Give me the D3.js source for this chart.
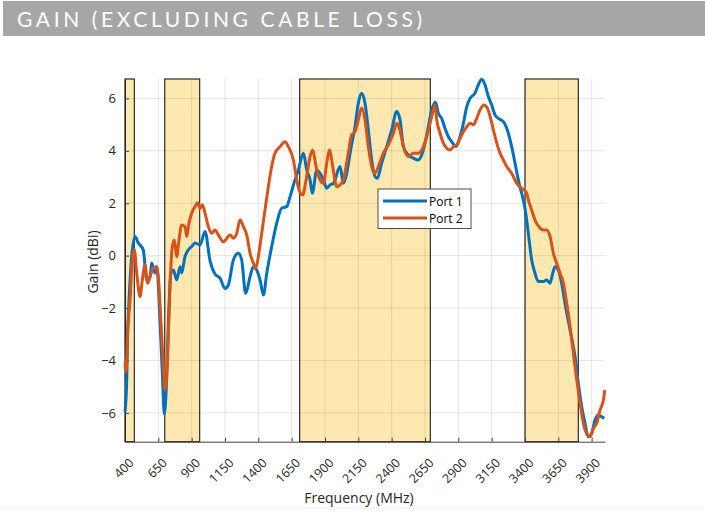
<!DOCTYPE html>
<html>
<head>
<meta charset="utf-8">
<script src="https://cdn.jsdelivr.net/npm/d3@7"></script>
<style>
  body { margin: 0; background: #fff; }
  text { font-family: "Open Sans", "Noto Sans", sans-serif; }
</style>
</head>
<body>
<div id="chart"></div>
<script>
var svgWidth = 705;
var svgHeight = 517;

// operating bands (MHz)
var bands = [[400, 470], [698, 960], [1710, 2690], [3400, 3800]];

var xTicks = [400, 650, 900, 1150, 1400, 1650, 1900, 2150, 2400, 2650, 2900, 3150, 3400, 3650, 3900];
var yTicks = [-6, -4, -2, 0, 2, 4, 6];

// Port 1
var freq1 = [400, 413, 420, 475, 500, 537, 563, 588, 600, 625, 638, 663, 680, 695, 713, 725, 745, 763, 788, 813,
  825, 850, 875, 900, 925, 963, 1000, 1038, 1075, 1113, 1150, 1175, 1213, 1250, 1275, 1305, 1338, 1363, 1388, 1413,
  1438, 1463, 1500, 1538, 1575, 1613, 1638, 1675, 1700, 1738, 1763, 1788, 1805, 1838, 1863, 1888, 1913, 1938, 1963, 2013,
  2038, 2063, 2088, 2125, 2150, 2175, 2200, 2225, 2250, 2275, 2293, 2325, 2363, 2400, 2438, 2463, 2488, 2525, 2563, 2600,
  2625, 2650, 2675, 2700, 2729, 2750, 2775, 2800, 2825, 2850, 2883, 2913, 2938, 2963, 2988, 3025, 3050, 3075, 3100, 3125,
  3150, 3175, 3200, 3238, 3275, 3300, 3325, 3350, 3363, 3375, 3400, 3425, 3450, 3475, 3500, 3538, 3563, 3588, 3608, 3625,
  3650, 3675, 3700, 3738, 3775, 3800, 3825, 3850, 3875, 3900, 3925, 3950, 3975, 3995];
var gain1 = [-5.95, -4.74, -2.95, 0.73, 0.48, 0.22, -0.93, -0.8, -0.28, -0.66, -0.42, -2.57, -4.48, -6.05, -4.6, -2.6, -0.66, -0.55, -0.93, -0.42,
  -0.66, -0.04, 0.22, 0.35, 0.48, 0.41, 0.92, -0.2, -0.7, -0.86, -1.25, -1.12, -0.16, 0.09, -0.16, -1.44, -0.8, -0.42, -0.55, -0.93,
  -1.5, -0.67, 0.34, 1.24, 1.81, 1.87, 2.25, 2.89, 3.27, 3.91, 3.27, 2.89, 2.38, 3.27, 3.14, 2.89, 2.57, 2.7, 2.76, 3.4,
  2.76, 3.14, 3.91, 4.92, 5.82, 6.2, 5.82, 4.8, 3.65, 3.02, 2.95, 3.53, 4.16, 4.8, 5.5, 5.18, 4.16, 3.84, 3.72, 3.65,
  3.84, 4.29, 4.92, 5.56, 5.85, 5.43, 5.24, 4.86, 4.54, 4.35, 4.16, 4.54, 5.05, 5.69, 6.0, 6.2, 6.52, 6.73, 6.52, 6.07,
  5.75, 5.37, 5.24, 5.11, 4.67, 4.16, 3.53, 2.89, 2.6, 2.38, 1.8, 0.85, -0.16, -0.67, -0.99, -0.99, -0.93, -1.05, -0.67, -0.42,
  -0.55, -1.05, -1.82, -2.84, -3.85, -4.87, -5.76, -6.4, -6.91, -6.78, -6.27, -6.08, -6.15, -6.2];

// Port 2
var freq2 = [400, 408, 420, 438, 450, 470, 488, 513, 530, 550, 570, 588, 613, 638, 650, 670, 688, 700, 720, 738,
  755, 770, 788, 805, 825, 850, 863, 880, 900, 925, 945, 963, 980, 1000, 1025, 1050, 1075, 1100, 1138, 1188,
  1213, 1238, 1263, 1288, 1313, 1338, 1363, 1380, 1400, 1425, 1450, 1475, 1500, 1525, 1563, 1600, 1625, 1663, 1688, 1713,
  1733, 1758, 1788, 1808, 1833, 1863, 1888, 1913, 1933, 1958, 1988, 2013, 2038, 2075, 2100, 2125, 2150, 2175, 2200, 2225,
  2250, 2275, 2300, 2338, 2375, 2413, 2438, 2458, 2488, 2525, 2563, 2600, 2638, 2663, 2688, 2713, 2725, 2738, 2763, 2788,
  2813, 2838, 2863, 2888, 2913, 2938, 2963, 2988, 3013, 3038, 3063, 3093, 3118, 3138, 3163, 3188, 3213, 3238, 3263, 3300,
  3338, 3375, 3413, 3425, 3450, 3475, 3513, 3538, 3563, 3588, 3613, 3638, 3663, 3688, 3713, 3738, 3763, 3788, 3813, 3838,
  3868, 3888, 3913, 3938, 3963, 3988, 3998];
var gain2 = [-4.1, -4.43, -2.84, -1.69, -0.55, 0.22, -0.67, -1.56, -0.93, -0.35, -1.05, -0.8, -0.48, -0.42, -0.8, -2.58, -4.24, -5.13, -3.85, -1.05,
  0.34, 0.6, -0.04, 0.6, 1.17, 1.11, 0.73, 1.24, 1.62, 1.87, 2.02, 1.8, 1.94, 1.62, 1.11, 0.85, 0.98, 0.79, 0.53, 0.79,
  0.66, 0.85, 1.36, 1.11, 0.79, 0.09, -0.29, -0.48, -0.04, 0.85, 1.74, 2.63, 3.4, 3.91, 4.16, 4.35, 4.16, 3.65, 2.89, 2.4,
  2.32, 2.89, 3.78, 4.03, 3.4, 2.89, 2.76, 3.53, 4.03, 3.4, 2.63, 2.7, 2.89, 3.91, 4.61, 4.73, 5.18, 5.63, 5.18, 4.16,
  3.4, 3.14, 3.4, 3.91, 4.23, 4.67, 5.05, 4.86, 4.16, 3.78, 3.91, 3.91, 4.16, 4.54, 5.05, 5.56, 5.75, 5.18, 4.67, 4.29,
  4.1, 4.03, 4.16, 4.23, 4.48, 4.73, 4.92, 5.05, 4.99, 5.24, 5.56, 5.75, 5.63, 5.31, 4.8, 4.29, 3.91, 3.65, 3.4, 3.14,
  2.76, 2.57, 2.38, 2.13, 1.74, 1.36, 1.05, 0.98, 0.98, 0.73, 0.09, -0.29, -0.67, -1.05, -1.82, -2.71, -3.73, -4.74, -5.63, -6.4,
  -6.84, -6.91, -6.59, -6.4, -5.89, -5.51, -5.13];

var margin = { top: 79, right: 100, bottom: 75.3, left: 125 };
var chartWidth = svgWidth - margin.left - margin.right;
var chartHeight = svgHeight - margin.top - margin.bottom;

var svg = d3.select("#chart")
  .append("svg")
  .attr("width", svgWidth)
  .attr("height", svgHeight);

// title bar
svg.append("rect")
  .attr("x", 3).attr("y", 1)
  .attr("width", svgWidth - 3).attr("height", 35)
  .attr("fill", "#a6a6a6");
svg.append("text")
  .attr("x", 17).attr("y", 27)
  .attr("fill", "#fff")
  .style("font-family", "Lato, 'Open Sans', sans-serif")
  .style("font-size", "21px")
  .attr("textLength", 405)
  .attr("lengthAdjust", "spacing")
  .text("GAIN (EXCLUDING CABLE LOSS)");

svg.append("line")
  .attr("x1", 0).attr("x2", svgWidth)
  .attr("y1", 508.5).attr("y2", 508.5)
  .attr("stroke", "#f2f2f2");

var chartGroup = svg.append("g")
  .attr("transform", `translate(${margin.left},${margin.top})`);

var xScale = d3.scaleLinear()
  .domain([400, 4000])
  .range([0, chartWidth]);
var yScale = d3.scaleLinear()
  .domain([-7.1, 6.74])
  .range([chartHeight, 0]);

// bands
chartGroup.selectAll("rect.band")
  .data(bands)
  .enter()
  .append("rect")
  .attr("class", "band")
  .attr("x", d => xScale(d[0]))
  .attr("y", 0)
  .attr("width", d => xScale(d[1]) - xScale(d[0]))
  .attr("height", chartHeight)
  .attr("fill", "#fde9af")
  .attr("stroke", "#2b2b2b")
  .attr("stroke-width", 1.2);

// grid
chartGroup.append("g")
  .selectAll("line")
  .data(xTicks)
  .enter()
  .append("line")
  .attr("x1", d => xScale(d)).attr("x2", d => xScale(d))
  .attr("y1", 0).attr("y2", chartHeight)
  .attr("stroke", "#000")
  .attr("stroke-opacity", 0.1);
chartGroup.append("g")
  .selectAll("line")
  .data(yTicks)
  .enter()
  .append("line")
  .attr("x1", 0).attr("x2", chartWidth)
  .attr("y1", d => yScale(d)).attr("y2", d => yScale(d))
  .attr("stroke", "#000")
  .attr("stroke-opacity", 0.1);

// axes
var bottomAxis = d3.axisBottom(xScale).tickValues(xTicks).tickSizeInner(-4).tickSizeOuter(0).tickFormat(d3.format("d"));
var leftAxis = d3.axisLeft(yScale).tickValues(yTicks).tickSizeInner(-4).tickSizeOuter(0).tickFormat(d3.format("d"));

var xAxis = chartGroup.append("g")
  .attr("transform", `translate(0, ${chartHeight})`)
  .call(bottomAxis);
xAxis.select(".domain").attr("stroke", "#404040");
xAxis.selectAll(".tick line").attr("stroke", "#404040");
xAxis.selectAll("text")
  .attr("fill", "#262626")
  .style("font-size", "12.5px")
  .attr("text-anchor", "end")
  .attr("y", 0)
  .attr("dy", 0)
  .attr("transform", "translate(9,22) rotate(-45)");

var yAxis = chartGroup.append("g").call(leftAxis);
yAxis.select(".domain").attr("stroke", "#262626");
yAxis.selectAll(".tick line").attr("stroke", "#404040");
yAxis.selectAll("text")
  .attr("fill", "#262626")
  .style("font-size", "13px")
  .attr("x", -9);

// lines
var line = d3.line()
  .x(d => xScale(d[0]))
  .y(d => yScale(d[1]))
  .curve(d3.curveMonotoneX);

chartGroup.append("path")
  .datum(d3.zip(freq1, gain1))
  .attr("fill", "none")
  .attr("stroke", "#0072bd")
  .attr("stroke-width", 3)
  .attr("stroke-linejoin", "round")
  .attr("d", line);

chartGroup.append("path")
  .datum(d3.zip(freq2, gain2))
  .attr("fill", "none")
  .attr("stroke", "#d95319")
  .attr("stroke-width", 3)
  .attr("stroke-linejoin", "round")
  .attr("d", line);

// legend
var legend = svg.append("g").attr("transform", "translate(378,189)");
legend.append("rect")
  .attr("width", 93).attr("height", 39.5)
  .attr("fill", "#fff")
  .attr("stroke", "#4d4d4d");
var legendItems = [["Port 1", "#0072bd"], ["Port 2", "#d95319"]];
legendItems.forEach(function(item, i) {
  legend.append("line")
    .attr("x1", 5).attr("x2", 49)
    .attr("y1", 12 + i * 17).attr("y2", 12 + i * 17)
    .attr("stroke", item[1])
    .attr("stroke-width", 3);
  legend.append("text")
    .attr("x", 51).attr("y", 16.5 + i * 17)
    .attr("fill", "#000")
    .style("font-size", "12px")
    .text(item[0]);
});

// axis labels
svg.append("text")
  .attr("x", 359).attr("y", 503)
  .attr("text-anchor", "middle")
  .attr("fill", "#262626")
  .style("font-size", "14px")
  .text("Frequency (MHz)");

svg.append("text")
  .attr("transform", "rotate(-90)")
  .attr("x", -262).attr("y", 98)
  .attr("text-anchor", "middle")
  .attr("fill", "#262626")
  .style("font-size", "14px")
  .text("Gain (dBi)");
</script>
</body>
</html>
